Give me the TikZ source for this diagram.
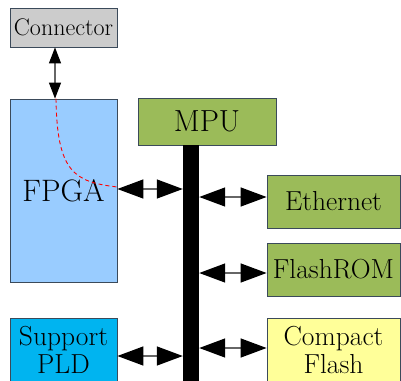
\documentclass[tikz,border=0pt]{standalone}
\usetikzlibrary{arrows.meta}
\definecolor{connGray}{HTML}{CCCCCC}
\definecolor{fpgaBlue}{HTML}{99CCFF}
\definecolor{mpuGreen}{HTML}{9BBB59}
\definecolor{pldCyan}{HTML}{00B4F0}
\definecolor{cfYellow}{HTML}{FFFF99}
\definecolor{edgeGray}{HTML}{3B4A5A}
\tikzset{
  blockbox/.style={draw=edgeGray,line width=0.8pt,inner sep=0pt,align=center,
    font=\fontsize{27.5}{28}\selectfont},
  biarrow/.style={draw=gray!80!black,line width=1.4pt,
    {Triangle[length=26pt,width=19pt,color=black]}-{Triangle[length=26pt,width=19pt,color=black]}},
}
\begin{document}
\begin{tikzpicture}[x=1pt,y=-1pt]
                    \useasboundingbox (0,0) rectangle (401,380);
                    % blocks
                    \node[blockbox,fill=connGray,minimum width=107pt,minimum height=39pt,font=\fontsize{24}{24}\selectfont] (conn) at (63.5,27.5) {Connector};
                    \node[blockbox,fill=fpgaBlue,minimum width=107pt,minimum height=183pt,font=\fontsize{31}{30}\selectfont] (fpga) at (63.5,190.5) {FPGA};
                    \node[blockbox,fill=mpuGreen,minimum width=138pt,minimum height=47pt,font=\fontsize{30.5}{30}\selectfont] (mpu) at (207,121.5) {MPU};
                    \node[blockbox,fill=mpuGreen,minimum width=133pt,minimum height=53pt] (eth) at (333.5,201.5) {Ethernet};
                    \node[blockbox,fill=mpuGreen,minimum width=133pt,minimum height=53pt] (rom) at (333.5,269.5) {FlashROM};
                    \node[blockbox,fill=pldCyan,minimum width=107pt,minimum height=64pt] (pld) at (63.5,350) {Support\\PLD};
                    \node[blockbox,fill=cfYellow,minimum width=133pt,minimum height=64pt] (cf) at (333.5,350) {Compact\\Flash};
                    % bus
                    \node[fill=black,inner sep=0pt,minimum width=16pt,minimum height=237pt] (bus) at (191,263.5) {};
                    % links
                    \coordinate (yfpga) at (0,189);
                    \coordinate (yeth) at (0,197);
                    \coordinate (yrom) at (0,273);
                    \coordinate (ypld) at (0,356);
                    \coordinate (ycf) at (0,348);
                    \draw[draw=gray!80!black,line width=1.2pt,{Triangle[length=16pt,width=12pt,color=black]}-{Triangle[length=16pt,width=12pt,color=black]}] (conn.south -| 55,0) -- (fpga.north -| 55,0);
                    \draw[biarrow] (fpga.east |- yfpga) -- (bus.west |- yfpga);
                    \draw[biarrow] (bus.east |- yeth) -- (eth.west |- yeth);
                    \draw[biarrow] (bus.east |- yrom) -- (rom.west |- yrom);
                    \draw[biarrow] (pld.east |- ypld) -- (bus.west |- ypld);
                    \draw[biarrow] (bus.east |- ycf) -- (cf.west |- ycf);
                    % signal route
                    \draw[red,line width=0.9pt,dash pattern=on 4pt off 3pt] (fpga.north -| 56,0) .. controls (57,172) and (74,182) .. (fpga.east |- 0,187);
                \end{tikzpicture}
\end{document}
